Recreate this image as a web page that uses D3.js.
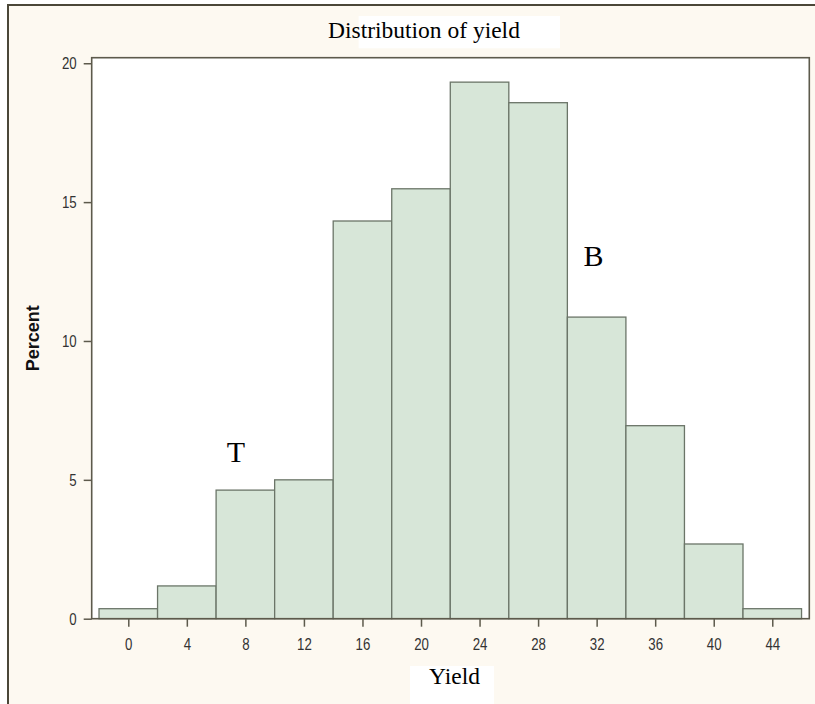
<!DOCTYPE html>
<html>
<head>
<meta charset="utf-8">
<script src="https://cdn.jsdelivr.net/npm/d3@7"></script>
<style>
  body { margin:0; background:#fff; }
  .tick text { font-family:"Liberation Sans",Arial,sans-serif; font-size:17px; fill:#333; }
  .axis path { display:none; }
  .axis line { stroke:#5d5a4c; stroke-width:1.5; }
  .serif { font-family:"Liberation Serif","Times New Roman",serif; fill:#000; }
</style>
</head>
<body>
<div id="chart"></div>
<script>
/* Distribution of yield — SAS style histogram, drawn with d3 only. */

/* ---- data ---- */
const BIN_MIDS = [0, 4, 8, 12, 16, 20, 24, 28, 32, 36, 40, 44];
const PERCENTS = [0.36, 1.18, 4.63, 5.0, 14.32, 15.48, 19.32, 18.58, 10.86, 6.95, 2.69, 0.36];
const BIN_WIDTH = 4;
const Y_TICKS = [0, 5, 10, 15, 20];
const X_TICKS = BIN_MIDS;
const NOTES = [ {label:"T", x:6.72, y:5.63}, {label:"B", x:31.1, y:12.7} ];

const W = 815, H = 704;
const PLOT = { left:91.7, right:809.3, top:57.7, bottom:618.7 };
const NARROW = 0.78;   // SAS tick font is a narrow sans, squeeze the regular one

const x = d3.scaleLinear().domain([-2.5, 46.53]).range([PLOT.left, PLOT.right]);
const y = d3.scaleLinear().domain([0, 20.2]).range([PLOT.bottom, PLOT.top]);

const svg = d3.select("#chart").append("svg").attr("width", W).attr("height", H);

// cream frame around everything (right / bottom edges fall outside the picture)
svg.append("rect").attr("x", 8).attr("y", 5).attr("width", 830).attr("height", 720)
  .attr("fill", "#fdf9f1").attr("stroke", "#4b4738").attr("stroke-width", 2);

// title, with its white label box sitting a bit off-centre like the original
svg.append("rect").attr("x", 358.6).attr("y", 16).attr("width", 201.4).attr("height", 32.3).attr("fill", "#fff");
svg.append("text").attr("class", "serif").attr("x", 328).attr("y", 38)
  .attr("font-size", 23.5).text("Distribution of yield");

// plot area
svg.append("rect").attr("x", PLOT.left).attr("y", PLOT.top)
  .attr("width", PLOT.right - PLOT.left).attr("height", PLOT.bottom - PLOT.top)
  .attr("fill", "#fff");

const bins = BIN_MIDS.map((m, i) => ({ mid:m, pct:PERCENTS[i] }));
svg.selectAll("rect.bar").data(bins).enter().append("rect").attr("class", "bar")
  .attr("x", d => x(d.mid - BIN_WIDTH/2))
  .attr("y", d => y(d.pct))
  .attr("width", d => x(d.mid + BIN_WIDTH/2) - x(d.mid - BIN_WIDTH/2))
  .attr("height", d => y(0) - y(d.pct))
  .attr("fill", "#d7e6d8").attr("stroke", "#6b7568").attr("stroke-width", 1.3);

// frame on top of the bars
svg.append("rect").attr("x", PLOT.left).attr("y", PLOT.top)
  .attr("width", PLOT.right - PLOT.left).attr("height", PLOT.bottom - PLOT.top)
  .attr("fill", "none").attr("stroke", "#5d5a4c").attr("stroke-width", 1.6);

// axes
svg.append("g").attr("class", "axis").attr("transform", `translate(0,${PLOT.bottom})`)
  .call(d3.axisBottom(x).tickValues(X_TICKS).tickSize(8).tickPadding(11.5).tickFormat(d3.format("d")))
  .selectAll("text").attr("dy", "0.71em").attr("transform", `scale(${NARROW},1)`);
svg.append("g").attr("class", "axis").attr("transform", `translate(${PLOT.left},0)`)
  .call(d3.axisLeft(y).tickValues(Y_TICKS).tickSize(8).tickPadding(7).tickFormat(d3.format("d")))
  .selectAll("text").attr("x", -15 / NARROW).attr("transform", `scale(${NARROW},1)`);

// axis titles
svg.append("text").attr("transform", `translate(39,${(PLOT.top + PLOT.bottom)/2}) rotate(-90)`)
  .attr("text-anchor", "middle")
  .attr("font-family", "'Liberation Sans',Arial,sans-serif").attr("font-weight", "bold")
  .attr("font-size", 18).attr("fill", "#111").text("Percent");

svg.append("rect").attr("x", 410).attr("y", 666).attr("width", 84).attr("height", 40).attr("fill", "#fff");
svg.append("text").attr("class", "serif").attr("x", 429).attr("y", 683.5)
  .attr("font-size", 23.5).text("Yield");

// free-standing letters inside the plot
svg.selectAll("text.note").data(NOTES).enter().append("text")
  .attr("class", "note serif").attr("x", d => x(d.x)).attr("y", d => y(d.y))
  .attr("font-size", 30).text(d => d.label);
</script>
</body>
</html>
